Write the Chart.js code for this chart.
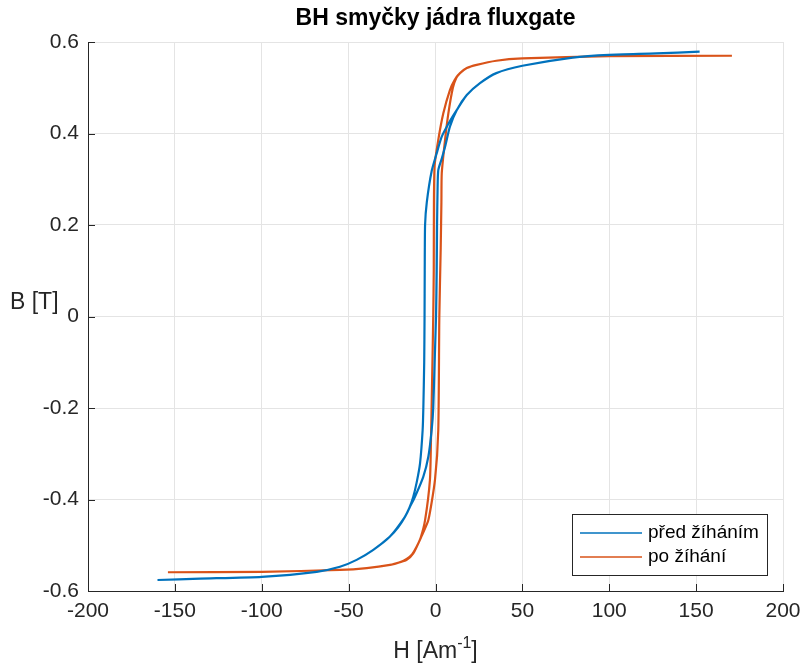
<!DOCTYPE html>
<html>
<head>
<meta charset="utf-8"/>
<style>
  html,body{margin:0;padding:0;background:#fff;}
  canvas{display:block;}
</style>
</head>
<body>
<canvas id="c" width="801" height="663"></canvas>
<script src="https://cdn.jsdelivr.net/npm/chart.js@4.4.0/dist/chart.umd.min.js"></script>
<script>
// před žíháním: sestupná větev (od +Hmax) a vzestupná větev (od -Hmax)
const predDownH = [152, 127, 100, 79, 50, 35, 25.6, 18, 12.2, 8, 3.6, 0.7, -2.2, -5, -6, -6.2, -6.3, -6.5, -7, -7.4, -8.9, -10.8, -12.8, -15, -17.6, -21.5, -26.2, -35.8, -45.4, -55, -68.4, -100, -135.5, -160];
const predDownB = [0.579, 0.575, 0.572, 0.566, 0.548, 0.532, 0.51, 0.484, 0.451, 0.425, 0.393, 0.357, 0.318, 0.25, 0.2, 0.1, 0, -0.1, -0.2, -0.248, -0.321, -0.362, -0.394, -0.418, -0.438, -0.461, -0.481, -0.51, -0.532, -0.547, -0.558, -0.569, -0.573, -0.576];
const predUpH   = [-160, -135.5, -100, -68.4, -55, -45.4, -35.8, -26.2, -17.6, -14.7, -11.8, -7, -4.1, -2.2, -1.3, -0.5, 0.3, 0.7, 0.9, 1.2, 1.6, 3.6, 5.5, 8.3, 12.2, 18, 25.6, 35, 50, 79, 100, 127, 152];
const predUpB   = [-0.576, -0.573, -0.569, -0.558, -0.547, -0.532, -0.51, -0.481, -0.438, -0.416, -0.394, -0.35, -0.306, -0.248, -0.2, -0.1, 0, 0.1, 0.2, 0.28, 0.32, 0.345, 0.371, 0.415, 0.451, 0.484, 0.51, 0.532, 0.548, 0.566, 0.572, 0.575, 0.579];

// po žíhání
const poDownH = [170.6, 100, 50, 35, 23.7, 18, 14.1, 11, 8.3, 4.5, 1.6, -0.5, -0.9, -1.0, -1.3, -2, -2.6, -3.2, -6, -8.5, -10.8, -13.5, -16.6, -20.5, -26.2, -39.6, -55, -100, -154];
const poDownB = [0.570, 0.569, 0.564, 0.559, 0.55, 0.543, 0.532, 0.517, 0.495, 0.444, 0.386, 0.33, 0.25, 0.1, 0, -0.15, -0.27, -0.357, -0.445, -0.483, -0.503, -0.52, -0.53, -0.537, -0.543, -0.55, -0.554, -0.558, -0.559];
const poUpH   = [-154, -100, -55, -39.6, -26.2, -20.5, -16.6, -12.8, -8, -4.1, -0.3, 1.6, 2.2, 3.0, 3.4, 3.6, 5.5, 7.4, 10, 12, 14.1, 18, 23.7, 35, 50, 100, 170.6];
const poUpB   = [-0.559, -0.558, -0.554, -0.55, -0.543, -0.537, -0.532, -0.518, -0.48, -0.445, -0.357, -0.248, 0, 0.15, 0.25, 0.313, 0.386, 0.444, 0.5, 0.522, 0.532, 0.543, 0.55, 0.559, 0.564, 0.569, 0.570];

const xTicks = [-200, -150, -100, -50, 0, 50, 100, 150, 200];
const yTicks = [-0.6, -0.4, -0.2, 0, 0.2, 0.4, 0.6];

const seriesNames = ['před žíháním', 'po žíhání'];
const seriesColors = ['#0072BD', '#D95319'];

const FONT = '"Liberation Sans", Arial, Helvetica, sans-serif';
const INK = '#262626';

const loop = (h1, b1, h2, b2) =>
  h1.map((h, i) => ({x: h, y: b1[i]})).concat(h2.map((h, i) => ({x: h, y: b2[i]})));

// popisky, legenda a tiky dovnitř (styl MATLAB)
const decor = {
  id: 'decor',
  afterDraw(chart) {
    const {ctx, chartArea: a, scales: {x, y}} = chart;
    ctx.save();
    ctx.strokeStyle = INK; ctx.lineWidth = 1;
    ctx.beginPath();
    xTicks.forEach(v => { const px = Math.round(x.getPixelForValue(v)) + 0.5; ctx.moveTo(px, a.bottom); ctx.lineTo(px, a.bottom - 7); });
    yTicks.forEach(v => { const py = Math.round(y.getPixelForValue(v)) + 0.5; ctx.moveTo(a.left, py); ctx.lineTo(a.left + 7, py); });
    ctx.stroke();

    ctx.fillStyle = '#000';
    ctx.font = 'bold 23px ' + FONT;
    ctx.textAlign = 'center'; ctx.textBaseline = 'alphabetic';
    ctx.fillText('BH smyčky jádra fluxgate', (a.left + a.right) / 2, 25);

    ctx.fillStyle = INK;
    ctx.font = '23px ' + FONT;
    ctx.textAlign = 'left';
    ctx.fillText('B [T]', 10, 309);

    // H [Am^-1]
    const p1 = 'H [Am', sup = '-1', p2 = ']';
    ctx.font = '23px ' + FONT;
    const w1 = ctx.measureText(p1).width, w3 = ctx.measureText(p2).width;
    ctx.font = '16px ' + FONT;
    const w2 = ctx.measureText(sup).width;
    let sx = (a.left + a.right) / 2 - (w1 + w2 + w3) / 2;
    const base = 658;
    ctx.font = '23px ' + FONT; ctx.fillText(p1, sx, base); sx += w1;
    ctx.font = '16px ' + FONT; ctx.fillText(sup, sx, base - 10); sx += w2;
    ctx.font = '23px ' + FONT; ctx.fillText(p2, sx, base);

    // legenda
    const lx = 572.5, ly = 514.5, lw = 195, lh = 61;
    ctx.fillStyle = '#fff'; ctx.fillRect(lx, ly, lw, lh);
    ctx.strokeStyle = INK; ctx.lineWidth = 1; ctx.strokeRect(lx, ly, lw, lh);
    ctx.font = '19px ' + FONT; ctx.textBaseline = 'middle';
    seriesNames.forEach((n, i) => {
      const yy = 533 + i * 24;
      ctx.strokeStyle = seriesColors[i]; ctx.lineWidth = 1.4;
      ctx.beginPath(); ctx.moveTo(580, yy); ctx.lineTo(642, yy); ctx.stroke();
      ctx.fillStyle = '#000'; ctx.fillText(n, 648, yy);
    });
    ctx.restore();
  }
};

new Chart(document.getElementById('c'), {
  type: 'scatter',
  data: {
    datasets: [
      { label: seriesNames[0], data: loop(predDownH, predDownB, predUpH, predUpB),
        showLine: true, borderColor: seriesColors[0], borderWidth: 2.2, pointRadius: 0, tension: 0.2, fill: false },
      { label: seriesNames[1], data: loop(poDownH, poDownB, poUpH, poUpB),
        showLine: true, borderColor: seriesColors[1], borderWidth: 2.2, pointRadius: 0, tension: 0.2, fill: false }
    ]
  },
  options: {
    responsive: false, animation: false, devicePixelRatio: 1,
    layout: { padding: { top: 42, right: 18, left: 0, bottom: 0 } },
    plugins: { legend: { display: false }, tooltip: { enabled: false } },
    scales: {
      x: {
        type: 'linear', min: -200, max: 200,
        afterBuildTicks: s => { s.ticks = xTicks.map(v => ({ value: v })); },
        afterFit: s => { s.height = 72; s.paddingLeft = 0; s.paddingRight = 0; },
        grid: { color: '#e4e4e4', drawTicks: false },
        border: { display: true, color: INK, width: 1 },
        ticks: { color: INK, font: { family: FONT, size: 21 }, padding: 8, maxRotation: 0 }
      },
      y: {
        type: 'linear', min: -0.6, max: 0.6,
        afterBuildTicks: s => { s.ticks = yTicks.map(v => ({ value: v })); },
        afterFit: s => { s.width = 88; },
        grid: { color: '#e4e4e4', drawTicks: false },
        border: { display: true, color: INK, width: 1 },
        ticks: { color: INK, font: { family: FONT, size: 21 }, padding: 9,
                 callback: v => String(Math.round(v * 10) / 10) }
      }
    }
  },
  plugins: [decor]
});
</script>
</body>
</html>
